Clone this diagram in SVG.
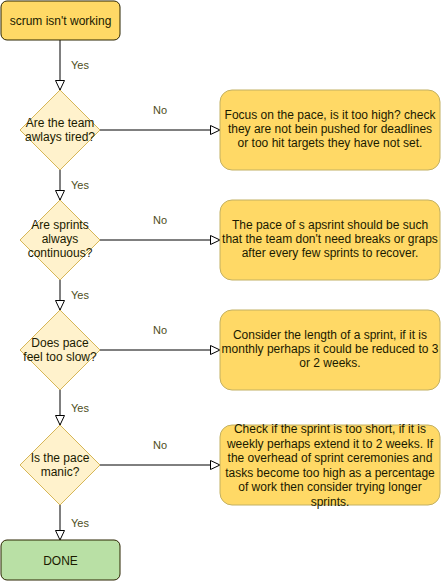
<svg xmlns="http://www.w3.org/2000/svg" width="441" height="581" viewBox="0 0 441 581">
<style>
text{font-family:"Liberation Sans",Arial,sans-serif;font-size:12px;fill:#1a1a00;text-anchor:middle}
.lbl{fill:#4d4d1a;font-size:11px}
.term{stroke:#2b2400;stroke-width:1}
.dec{fill:#fff2cc;stroke:#d6b656;stroke-width:1}
.act{fill:#ffd966;stroke:#c2b062;stroke-width:1}
.edge{stroke:#000;stroke-width:1;fill:none}
</style>
<defs>
<marker id="arr" markerWidth="11" markerHeight="10" refX="10" refY="5" orient="auto" markerUnits="userSpaceOnUse">
<path d="M0.5,0.5 L10,5 L0.5,9.5 Z" fill="#fff" stroke="#000" stroke-width="1"/>
</marker>
</defs>
<rect width="441" height="581" fill="#fff"/>
<g id="connectors">
<path class="edge" d="M60,40 V90" marker-end="url(#arr)"/>
<path class="edge" d="M60,170 V200" marker-end="url(#arr)"/>
<path class="edge" d="M60,280 V310" marker-end="url(#arr)"/>
<path class="edge" d="M60,390 V425" marker-end="url(#arr)"/>
<path class="edge" d="M60,505 V540" marker-end="url(#arr)"/>
<path class="edge" d="M100,130 H220" marker-end="url(#arr)"/>
<path class="edge" d="M100,240 H220" marker-end="url(#arr)"/>
<path class="edge" d="M100,350 H220" marker-end="url(#arr)"/>
<path class="edge" d="M100,465 H220" marker-end="url(#arr)"/>
<text class="lbl" x="80" y="69">Yes</text>
<text class="lbl" x="80" y="189">Yes</text>
<text class="lbl" x="80" y="299">Yes</text>
<text class="lbl" x="80" y="412">Yes</text>
<text class="lbl" x="80" y="527">Yes</text>
<text class="lbl" x="160" y="114">No</text>
<text class="lbl" x="160" y="224">No</text>
<text class="lbl" x="160" y="334">No</text>
<text class="lbl" x="160" y="449">No</text>
</g>
<g id="start">
<rect class="term" x="1" y="1" width="119" height="39" rx="6" fill="#ffd966"/>
<text x="60.5" y="24.5">scrum isn't working</text>
</g>
<g id="q1">
<path class="dec" d="M60,90 L100,130 L60,170 L20,130 Z"/>
<text x="60" y="127">Are the team</text>
<text x="60" y="141">awlays tired?</text>
</g>
<g id="a1">
<rect class="act" x="220" y="90" width="220" height="80" rx="12"/>
<text x="330" y="119">Focus on the pace, is it too high? check</text>
<text x="330" y="133">they are not bein pushed for deadlines</text>
<text x="330" y="147">or too hit targets they have not set.</text>
</g>
<g id="q2">
<path class="dec" d="M60,200 L100,240 L60,280 L20,240 Z"/>
<text x="60" y="229">Are sprints</text>
<text x="60" y="243">always</text>
<text x="60" y="257">continuous?</text>
</g>
<g id="a2">
<rect class="act" x="220" y="200" width="220" height="80" rx="12"/>
<text x="330" y="229">The pace of s apsrint should be such</text>
<text x="330" y="243">that the team don't need breaks or graps</text>
<text x="330" y="257">after every few sprints to recover.</text>
</g>
<g id="q3">
<path class="dec" d="M60,310 L100,350 L60,390 L20,350 Z"/>
<text x="60" y="347">Does pace</text>
<text x="60" y="361">feel too slow?</text>
</g>
<g id="a3">
<rect class="act" x="220" y="310" width="220" height="80" rx="12"/>
<text x="330" y="339">Consider the length of a sprint, if it is</text>
<text x="330" y="353">monthly perhaps it could be reduced to 3</text>
<text x="330" y="367">or 2 weeks.</text>
</g>
<g id="q4">
<path class="dec" d="M60,425 L100,465 L60,505 L20,465 Z"/>
<text x="60" y="462">Is the pace</text>
<text x="60" y="476">manic?</text>
</g>
<g id="a4">
<rect class="act" x="220" y="425" width="220" height="80" rx="12"/>
<text x="330" y="433">Check if the sprint is too short, if it is</text>
<text x="330" y="447.5">weekly perhaps extend it to 2 weeks. If</text>
<text x="330" y="462">the overhead of sprint ceremonies and</text>
<text x="330" y="476.5">tasks become too high as a percentage</text>
<text x="330" y="491">of work then consider trying longer</text>
<text x="330" y="505.5">sprints.</text>
</g>
<g id="done">
<rect class="term" x="1" y="540" width="119" height="40" rx="6" fill="#b9e0a5"/>
<text x="60.5" y="564.5">DONE</text>
</g>
</svg>
